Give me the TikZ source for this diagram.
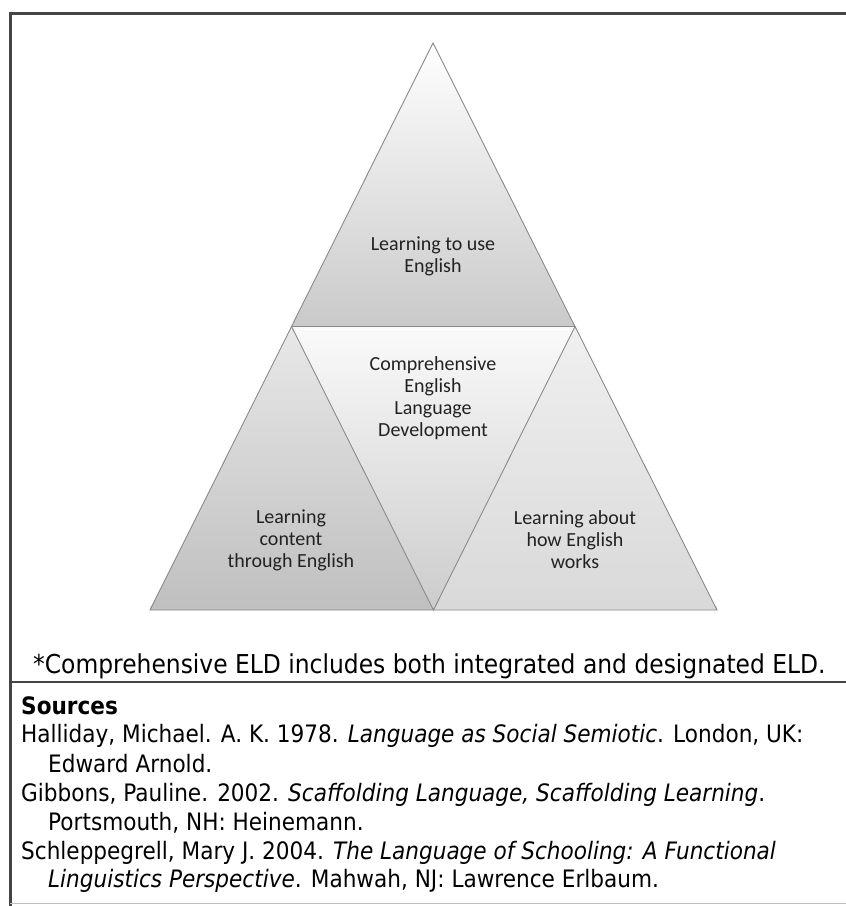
\documentclass[tikz,border=0pt]{standalone}
\usepackage{fontspec}
\setmainfont{Carlito}
\newfontfamily\tahfont[FakeStretch=0.9]{DejaVu Sans}
\newfontfamily\calfont{Carlito}
\definecolor{frame}{HTML}{454545}
\definecolor{edge}{HTML}{8A8A8A}
\definecolor{txt}{HTML}{222222}
\tikzset{
  tri/.style={draw=edge, line width=0.9pt, line join=miter},
  trilabel/.style={align=center, inner sep=0pt, text=txt, font=\calfont\fontsize{20}{22}\selectfont},
  foot/.style={anchor=base west, inner sep=0pt, text=black, font=\tahfont\fontsize{26}{29}\selectfont},
  src/.style={anchor=base west, inner sep=0pt, text=black, font=\tahfont\fontsize{24}{29}\selectfont},
  rule/.style={draw=frame, line width=3pt},
}
\begin{document}
\begin{tikzpicture}[x=1pt, y=-1pt]
\useasboundingbox (0,0) rectangle (846,906);
\fill[white] (0,0) rectangle (846,906);
% triangle vertices
\coordinate (A) at (433,43);
\coordinate (BL) at (150,610);
\coordinate (BR) at (717,610);
\coordinate (ML) at (291.5,326.5);
\coordinate (MR) at (575,326.5);
\coordinate (MB) at (433.5,610);
% shadow under the base
\draw[line width=3pt, color=black!12] ([yshift=2.5pt]BL) -- ([yshift=2.5pt]BR);
% top triangle
\shade[top color=white, bottom color=black!21] (A) -- (MR) -- (ML) -- cycle;
% left triangle
\shade[top color=black!9, bottom color=black!25] (ML) -- (MB) -- (BL) -- cycle;
% middle (inverted) triangle
\shade[top color=black!2, bottom color=black!20] (ML) -- (MR) -- (MB) -- cycle;
% right triangle
\shade[top color=black!6, bottom color=black!15] (MR) -- (BR) -- (MB) -- cycle;
\draw[tri] (A) -- (BR) -- (BL) -- cycle;
\draw[tri] (ML) -- (MR) -- (MB) -- cycle;
\draw[white, line width=1.5pt] ([shift={(4,3)}]ML) -- ([shift={(-4,3)}]MR);
% labels
\node[trilabel] (top) at (433,256) {Learning to use\\English};
\node[trilabel] (mid) at (433,398) {Comprehensive\\English\\Language\\Development};
\node[trilabel] (left) at (291,540) {Learning\\content\\through English};
\node[trilabel] (right) at (575,540) {Learning about\\how English\\works};
% frame
\draw[rule] (10,13) -- (846,13);
\draw[rule] (10,11.5) -- (10,906);
\draw[rule, line width=2.4pt] (10,682) -- (846,682);
\draw[draw=black!25, line width=1pt] (10,903) -- (846,903);
% footnote
\node[foot] (note) at (33,673) {*Comprehensive ELD includes both integrated and designated ELD.};
% sources
\node[src, font=\tahfont\bfseries\fontsize{24}{29}\selectfont] (srchead) at (21,714) {Sources};
\node[src] (s1a) at (21,742) {Halliday, Michael. A. K. 1978. \textit{Language as Social Semiotic}. London, UK:};
\node[src] (s1b) at (48,772) {Edward Arnold.};
\node[src] (s2a) at (21,801) {Gibbons, Pauline. 2002. \textit{Scaffolding Language, Scaffolding Learning}.};
\node[src] (s2b) at (48,830) {Portsmouth, NH: Heinemann.};
\node[src] (s3a) at (21,859) {Schleppegrell, Mary J. 2004. \textit{The Language of Schooling: A Functional}};
\node[src] (s3b) at (48,887) {\textit{Linguistics Perspective}. Mahwah, NJ: Lawrence Erlbaum.};
\end{tikzpicture}
\end{document}
